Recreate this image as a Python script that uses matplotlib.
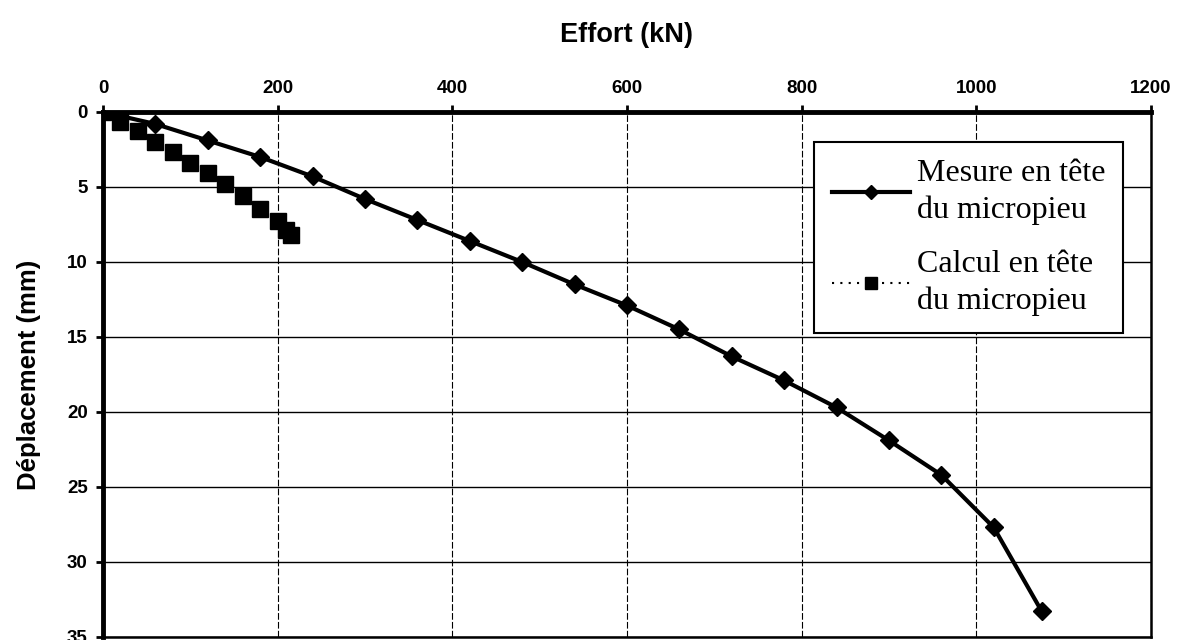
import numpy as np
import matplotlib.pyplot as plt

# Data
effort_mesure = [0, 60, 120, 180, 240, 300, 360, 420, 480, 540, 600, 660,
                 720, 780, 840, 900, 960, 1020, 1075]
depl_mesure = [0, 0.8, 1.9, 3.0, 4.3, 5.8, 7.2, 8.6, 10.0, 11.5, 12.9, 14.5,
               16.3, 17.9, 19.7, 21.9, 24.2, 27.7, 33.3]

effort_calcul = [0, 20, 40, 60, 80, 100, 120, 140, 160, 180, 200, 210, 215]
depl_calcul = [0, 0.7, 1.3, 2.0, 2.7, 3.4, 4.1, 4.8, 5.6, 6.5, 7.3, 7.9, 8.2]

xticks = [0, 200, 400, 600, 800, 1000, 1200]
yticks = [0, 5, 10, 15, 20, 25, 30, 35]

fig = plt.figure(figsize=(11.77, 6.4), dpi=100)
ax = fig.add_axes([0.0875, 0.0047, 0.8904, 0.8203])

ax.plot(effort_mesure, depl_mesure, color='black', lw=3, marker='D',
        markersize=9, label='Mesure en tête\ndu micropieu', zorder=3)
ax.plot(effort_calcul, depl_calcul, color='black', lw=1.5, ls=(0, (1, 3)),
        marker='s', markersize=11.5, label='Calcul en tête\ndu micropieu', zorder=3)

ax.set_xlim(0, 1200)
ax.set_ylim(35, 0)
ax.set_xticks(xticks)
ax.set_yticks(yticks)
ax.xaxis.tick_top()
ax.xaxis.set_label_position('top')

ax.grid(axis='y', color='black', lw=1.0)
ax.grid(axis='x', color='black', lw=0.8, ls=(0, (6, 2)))

for s in ['left', 'top']:
    ax.spines[s].set_linewidth(3.5)
for s in ['right', 'bottom']:
    ax.spines[s].set_linewidth(1.8)

ax.tick_params(axis='both', direction='out', length=5, width=2,
               labelsize=13.5, pad=6)
for lab in ax.get_xticklabels() + ax.get_yticklabels():
    lab.set_fontweight('bold')
    lab.set_family('Liberation Sans')

ax.set_xlabel('Effort (kN)', fontsize=19.5, fontweight='bold',
              family='Liberation Sans', va='center')
ax.xaxis.set_label_coords(0.5, 1.147)
ax.set_ylabel('Déplacement (mm)', fontsize=18.5, fontweight='bold',
              family='Liberation Sans', va='center')
ax.yaxis.set_label_coords(-0.0706, 0.5)

leg = ax.legend(loc='upper right', bbox_to_anchor=(0.973, 0.943),
                prop={'family': 'Liberation Serif', 'size': 23},
                frameon=True, fancybox=False, edgecolor='black',
                framealpha=1, handlelength=2.45, handletextpad=0.2,
                labelspacing=0.8, borderpad=0.55, markerscale=0.75,
                borderaxespad=0)
for t in leg.get_texts():
    t.set_linespacing(1.3)
leg.get_frame().set_linewidth(1.5)

fig.savefig('out.png', dpi=100)
